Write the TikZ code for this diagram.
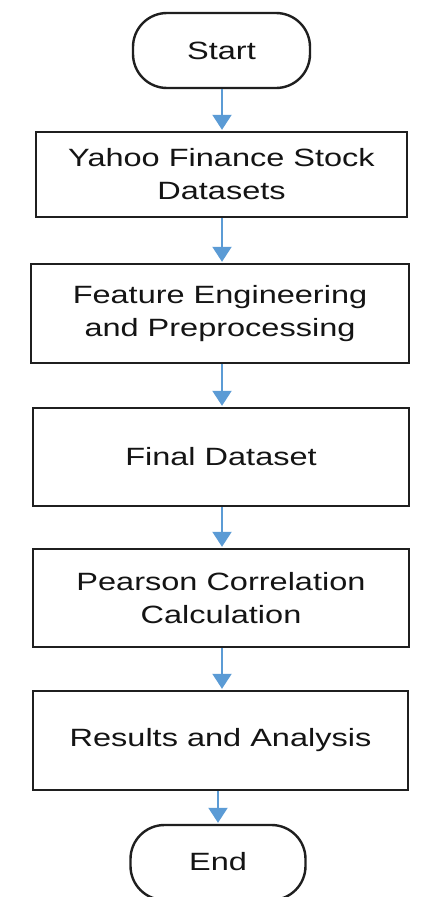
\documentclass[tikz,border=0pt]{standalone}
\usepackage{fontspec}
\setmainfont[FakeStretch=1.3]{Liberation Sans}
\usetikzlibrary{arrows.meta}
\definecolor{arrowblue}{HTML}{5B9BD5}
\begin{document}
\begin{tikzpicture}[x=1pt,y=-1pt,
  every node/.style={font=\fontsize{25}{33}\selectfont, text=black!92, align=center, inner sep=0pt},
  procbox/.style={draw=black!88, line width=2.4pt, fill=white},
  termbox/.style={draw=black!88, line width=2.4pt, fill=white, rounded corners=34pt},
  flow/.style={draw=arrowblue, line width=2pt, -{Triangle[width=19pt,length=15pt]}, shorten >=1pt}
]
\useasboundingbox (0,0) rectangle (422,897);
\fill[white] (0,0) rectangle (422,897);
\node[termbox, minimum width=177pt, minimum height=75pt] (start) at (221.5,50.5) {Start};
\node[procbox, minimum width=371pt, minimum height=85pt] (yahoo) at (221.5,174.5) {Yahoo Finance Stock\\Datasets};
\node[procbox, minimum width=378pt, minimum height=99pt] (feat) at (220,313.5) {Feature Engineering\\and Preprocessing};
\node[procbox, minimum width=376pt, minimum height=98pt] (final) at (221,457) {Final Dataset};
\node[procbox, minimum width=376pt, minimum height=98pt] (pear) at (221,598) {Pearson Correlation\\Calculation};
\node[procbox, minimum width=375pt, minimum height=99pt] (res) at (220.5,740.5) {\raisebox{4pt}{Results and Analysis}};
\node[termbox, minimum width=175pt, minimum height=75pt] (end) at (218,862.5) {\raisebox{3pt}{End}};
\draw[flow] (start.south -| 222,0) -- (yahoo.north -| 222,0);
\draw[flow] (yahoo.south -| 222,0) -- (feat.north -| 222,0);
\draw[flow] (feat.south -| 222,0) -- (final.north -| 222,0);
\draw[flow] (final.south -| 222,0) -- (pear.north -| 222,0);
\draw[flow] (pear.south -| 222,0) -- (res.north -| 222,0);
\draw[flow] (res.south -| 218,0) -- (end.north -| 218,0);
\end{tikzpicture}
\end{document}
